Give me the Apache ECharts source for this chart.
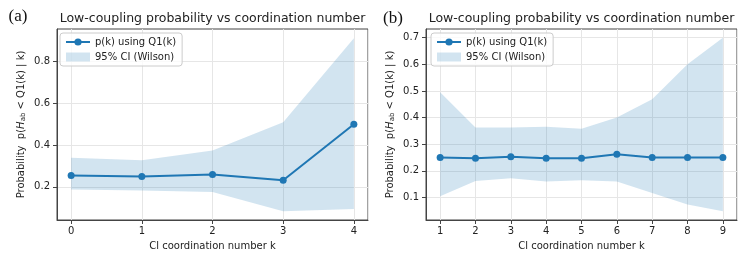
<!DOCTYPE html>
<html>
<head>
<meta charset="utf-8">
<script src="https://cdn.jsdelivr.net/npm/echarts@6/dist/echarts.min.js"></script>
<style>
  html, body { margin: 0; padding: 0; background: #fff; }
  #chart { width: 743px; height: 256px; }
</style>
</head>
<body>
<div id="chart"></div>
<script>
// panel (a)
var kA = [0, 1, 2, 3, 4];
var pA = [0.254, 0.250, 0.259, 0.232, 0.500];
var loA = [0.187, 0.182, 0.175, 0.083, 0.094];
var hiA = [0.339, 0.328, 0.374, 0.510, 0.913];
var yTicksA = [0.2, 0.4, 0.6, 0.8];

// panel (b)
var kB = [1, 2, 3, 4, 5, 6, 7, 8, 9];
var pB = [0.250, 0.247, 0.253, 0.247, 0.247, 0.262, 0.250, 0.250, 0.250];
var loB = [0.105, 0.162, 0.172, 0.160, 0.165, 0.160, 0.117, 0.074, 0.048];
var hiB = [0.495, 0.363, 0.363, 0.366, 0.358, 0.400, 0.469, 0.600, 0.700];
var yTicksB = [0.1, 0.2, 0.3, 0.4, 0.5, 0.6, 0.7];

var titleText = 'Low-coupling probability vs coordination number';
var lineName = 'p(k) using Q1(k)';
var bandName = '95% CI (Wilson)';

var blue = '#1f77b4';
var bandColor = 'rgba(31,119,180,0.2)';
var font = 'DejaVu Sans';
var ink = '#222';

function bandSeries(ks, lo, hi, idx) {
  return {
    name: bandName,
    type: 'custom',
    xAxisIndex: idx,
    yAxisIndex: idx,
    itemStyle: { color: bandColor },
    encode: { x: 0, y: [1, 2] },
    data: ks.map(function (k, i) { return [k, lo[i], hi[i]] }),
    renderItem: function (params, api) {
      if (params.dataIndex !== 0) return null
      var pts = []
      for (var i = 0; i < ks.length; i++) pts.push(api.coord([ks[i], hi[i]]))
      for (var j = ks.length - 1; j >= 0; j--) pts.push(api.coord([ks[j], lo[j]]))
      return {
        type: 'polygon',
        shape: { points: pts },
        style: { fill: bandColor }
      }
    },
    z: 1
  }
}

function lineSeries(ks, p, idx) {
  return {
    name: lineName,
    type: 'line',
    xAxisIndex: idx,
    yAxisIndex: idx,
    data: ks.map(function (k, i) { return [k, p[i]] }),
    symbol: 'circle',
    symbolSize: 7,
    lineStyle: { color: blue, width: 2 },
    itemStyle: { color: blue },
    z: 3
  }
}

function xAxis(idx, min, max, split) {
  return {
    type: 'value',
    gridIndex: idx,
    min: min,
    max: max,
    splitNumber: split,
    name: 'Cl coordination number k',
    nameLocation: 'middle',
    nameGap: 21,
    nameTextStyle: { fontFamily: font, fontSize: 10, color: ink },
    axisLine: { onZero: false, lineStyle: { color: '#444', width: 1 } },
    axisTick: { length: 4, lineStyle: { color: '#444' } },
    axisLabel: {
      margin: 6, fontFamily: font, fontSize: 10, color: ink,
      showMinLabel: false, showMaxLabel: false
    },
    splitLine: { show: true, lineStyle: { color: '#e6e6e6', width: 1 } }
  }
}

function yAxis(idx, min, max, ticks) {
  return {
    type: 'value',
    gridIndex: idx,
    min: min,
    max: max,
    name: '{n|Probability  p(}{i|H}{s|ab}{n| < Q1(k) | k)}',
    nameLocation: 'middle',
    nameGap: 30,
    nameTextStyle: {
      fontFamily: font, fontSize: 10, color: ink,
      rich: {
        n: { fontFamily: font, fontSize: 10, color: ink },
        i: { fontFamily: font, fontSize: 10, color: ink, fontStyle: 'italic' },
        s: { fontFamily: font, fontSize: 7, color: ink, padding: [4, 0, 0, 0] }
      }
    },
    axisLine: { show: true, onZero: false, lineStyle: { color: '#444', width: 1 } },
    axisTick: { show: true, length: 4, customValues: ticks, lineStyle: { color: '#444' } },
    axisLabel: { margin: 7, fontFamily: font, fontSize: 10, color: ink, customValues: ticks },
    splitLine: { show: true, lineStyle: { color: '#e6e6e6', width: 1 } }
  }
}

function legend(left) {
  return {
    left: left,
    top: 33,
    orient: 'vertical',
    itemWidth: 24,
    itemHeight: 9,
    itemGap: 5,
    padding: [4, 6, 4, 5],
    backgroundColor: 'rgba(255,255,255,0.8)',
    borderColor: '#cccccc',
    borderWidth: 1,
    borderRadius: 3,
    selectedMode: false,
    textStyle: { fontFamily: font, fontSize: 10, color: ink },
    data: [{ name: lineName }, { name: bandName, icon: 'rect' }]
  }
}

var chart = echarts.init(document.getElementById('chart'), null, { renderer: 'canvas' })

var option = {
  animation: false,
  backgroundColor: '#fff',
  grid: [
    { left: 57, top: 29, width: 311, height: 191, show: true, borderColor: '#444', borderWidth: 1, backgroundColor: 'transparent' },
    { left: 426, top: 29, width: 311, height: 191, show: true, borderColor: '#444', borderWidth: 1, backgroundColor: 'transparent' }
  ],
  legend: [legend(60), legend(431)],
  xAxis: [xAxis(0, -0.2, 4.2, 5), xAxis(1, 0.6, 9.4, 9)],
  yAxis: [yAxis(0, 0.041, 0.957, yTicksA), yAxis(1, 0.0154, 0.7326, yTicksB)],
  graphic: [
    { type: 'text', x: 212.5, y: 19, style: { text: titleText, align: 'center', verticalAlign: 'middle', fontFamily: font, fontSize: 12.5, fill: ink } },
    { type: 'text', x: 581.5, y: 19, style: { text: titleText, align: 'center', verticalAlign: 'middle', fontFamily: font, fontSize: 12.5, fill: ink } },
    { type: 'text', x: 18, y: 17, style: { text: '(a)', align: 'center', verticalAlign: 'middle', fontFamily: 'Liberation Serif', fontSize: 17, fill: '#111' } },
    { type: 'text', x: 393, y: 19, style: { text: '(b)', align: 'center', verticalAlign: 'middle', fontFamily: 'Liberation Serif', fontSize: 17, fill: '#111' } }
  ],
  series: [
    bandSeries(kA, loA, hiA, 0),
    lineSeries(kA, pA, 0),
    bandSeries(kB, loB, hiB, 1),
    lineSeries(kB, pB, 1)
  ]
}

chart.setOption(option)
</script>
</body>
</html>
